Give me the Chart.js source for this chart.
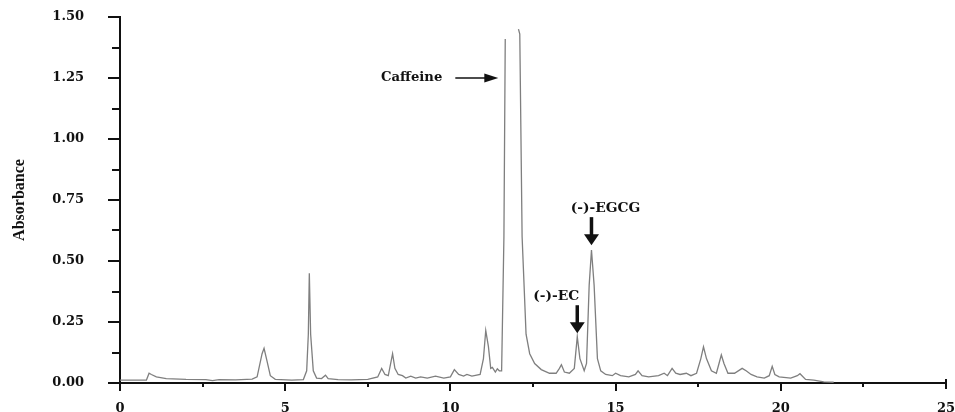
<!DOCTYPE html>
<html>
<head>
<meta charset="utf-8">
<script src="https://cdn.jsdelivr.net/npm/chart.js@4.4.1/dist/chart.umd.min.js"></script>
<style>
  body { margin: 0; background: #fff; }
</style>
</head>
<body>
<canvas id="chromatogram" width="955" height="412"></canvas>
<script>
// retention time (min) and absorbance
// null = the clipped top of the caffeine peak (trace not drawn there)
const retentionTime = [
  0.0, 0.8, 0.88, 0.95, 1.1, 1.4, 2.0, 2.6, 2.8, 3.0, 3.5, 4.0,
  4.15, 4.3, 4.36, 4.45, 4.55, 4.7, 5.2, 5.55, 5.65, 5.7, 5.73, 5.77,
  5.85, 5.95, 6.1, 6.22, 6.3, 6.6, 7.0, 7.5, 7.8, 7.92, 8.02, 8.12,
  8.25, 8.32, 8.42, 8.55, 8.65, 8.8, 8.95, 9.1, 9.3, 9.55, 9.8, 10.0,
  10.12, 10.25, 10.4, 10.5, 10.65, 10.9, 11.0, 11.07, 11.15, 11.22, 11.27, 11.36,
  11.42, 11.48, 11.55, 11.62, 11.66, 11.9, 12.06, 12.1, 12.17, 12.29, 12.4, 12.55,
  12.75, 13.0, 13.2, 13.3, 13.36, 13.45, 13.6, 13.75, 13.84, 13.92, 14.05, 14.12,
  14.2, 14.27, 14.35, 14.45, 14.55, 14.7, 14.9, 15.0, 15.15, 15.4, 15.6, 15.68,
  15.8, 16.0, 16.3, 16.47, 16.57, 16.71, 16.82, 16.95, 17.14, 17.28, 17.45, 17.58,
  17.66, 17.75, 17.9, 18.05, 18.13, 18.2, 18.28, 18.4, 18.6, 18.83, 18.95, 19.1,
  19.28, 19.5, 19.65, 19.74, 19.82, 19.95, 20.3, 20.5, 20.58, 20.75, 21.0, 21.3,
  21.6
];
const absorbance = [
  0.012, 0.012, 0.04, 0.035, 0.025, 0.018, 0.015, 0.014, 0.01, 0.014, 0.013, 0.016,
  0.025, 0.12, 0.142, 0.09, 0.03, 0.015, 0.012, 0.014, 0.05, 0.2, 0.45, 0.2,
  0.05, 0.02, 0.018, 0.032, 0.018, 0.014, 0.013, 0.015, 0.025, 0.06, 0.035, 0.03,
  0.12, 0.06, 0.035, 0.03, 0.02, 0.028, 0.02, 0.025, 0.02, 0.028, 0.02, 0.025,
  0.055, 0.035, 0.028, 0.035, 0.028, 0.035, 0.1, 0.215, 0.15, 0.06, 0.064, 0.045,
  0.058, 0.05, 0.05, 0.6, 1.41, null, 1.45, 1.43, 0.6, 0.2, 0.12, 0.08,
  0.055, 0.04, 0.04, 0.06, 0.075, 0.045, 0.04, 0.06, 0.19, 0.1, 0.05, 0.08,
  0.4, 0.545, 0.4, 0.1, 0.05, 0.035, 0.03, 0.04, 0.03, 0.025, 0.035, 0.05,
  0.03, 0.025, 0.03, 0.04, 0.03, 0.06, 0.04, 0.035, 0.04, 0.03, 0.04, 0.1,
  0.148, 0.1, 0.05, 0.04, 0.08, 0.115, 0.08, 0.04, 0.04, 0.06, 0.05, 0.035,
  0.025, 0.02, 0.03, 0.068, 0.035, 0.025, 0.02, 0.03, 0.038, 0.015, 0.012, 0.005,
  0.003
];
const xTickValues = [0, 5, 10, 15, 20, 25];
const yTickLabels = ['0.00', '0.25', '0.50', '0.75', '1.00', '1.25', '1.50'];

// peak labels: anchored at the arrow tip in data units
const peakLabels = [
  { text: 'Caffeine', x: 11.45, y: 1.25, arrow: 'right' },
  { text: '(-)-EGCG', x: 14.27, y: 0.565, arrow: 'down', textDx: 14 },
  { text: '(-)-EC', x: 13.84, y: 0.204, arrow: 'down', textDx: -21 }
];

const tickFont = { family: '"DejaVu Serif", serif', size: 13, weight: 'bold' };

const axisMarks = {
  id: 'axisMarks',
  afterDraw(chart) {
    const ctx = chart.ctx;
    const xs = chart.scales.x, ys = chart.scales.y;
    const left = chart.chartArea.left, bottom = chart.chartArea.bottom;
    ctx.save();
    ctx.strokeStyle = '#111';
    ctx.lineWidth = 2;
    // y ticks: majors every 0.25, minors between
    for (let i = 0; i <= 12; i++) {
      const py = Math.round(ys.getPixelForValue(i * 0.125));
      ctx.beginPath();
      ctx.moveTo(left - (i % 2 === 0 ? 12 : 8), py);
      ctx.lineTo(left, py);
      ctx.stroke();
    }
    // x ticks: majors every 5, minors every 2.5
    for (let i = 0; i <= 10; i++) {
      const px = Math.round(xs.getPixelForValue(i * 2.5));
      ctx.beginPath();
      if (i === 10) {
        ctx.moveTo(px, bottom - 4);
        ctx.lineTo(px, bottom + 6);
      } else {
        ctx.moveTo(px, bottom);
        ctx.lineTo(px, bottom + (i % 2 === 0 ? 8 : 4));
      }
      ctx.stroke();
    }

    // peak labels + arrows
    ctx.fillStyle = '#111';
    ctx.strokeStyle = '#111';
    ctx.font = 'bold 12px "DejaVu Serif", serif';
    ctx.textBaseline = 'middle';
    peakLabels.forEach(p => {
      const tx = xs.getPixelForValue(p.x);
      const ty = ys.getPixelForValue(p.y);
      if (p.arrow === 'right') {
        ctx.lineWidth = 1.5;
        ctx.beginPath();
        ctx.moveTo(tx - 43, ty);
        ctx.lineTo(tx - 12, ty);
        ctx.stroke();
        ctx.beginPath();
        ctx.moveTo(tx, ty);
        ctx.lineTo(tx - 14, ty - 4.5);
        ctx.lineTo(tx - 14, ty + 4.5);
        ctx.closePath();
        ctx.fill();
        ctx.save();
        ctx.translate(tx - 56, ty);
        ctx.scale(1.1, 1);
        ctx.textAlign = 'right';
        ctx.fillText(p.text, 0, 0);
        ctx.restore();
      } else {
        ctx.lineWidth = 3.5;
        ctx.beginPath();
        ctx.moveTo(tx, ty - 28);
        ctx.lineTo(tx, ty - 9);
        ctx.stroke();
        ctx.beginPath();
        ctx.moveTo(tx, ty);
        ctx.lineTo(tx - 7.5, ty - 11);
        ctx.lineTo(tx + 7.5, ty - 11);
        ctx.closePath();
        ctx.fill();
        ctx.save();
        ctx.translate(tx + p.textDx, ty - 36);
        ctx.scale(1.15, 1);
        ctx.textAlign = 'center';
        ctx.fillText(p.text, 0, 0);
        ctx.restore();
      }
    });
    ctx.restore();
  }
};

new Chart(document.getElementById('chromatogram').getContext('2d'), {
  type: 'line',
  data: {
    datasets: [{
      data: retentionTime.map((t, i) => ({ x: t, y: absorbance[i] })),
      borderColor: '#7f7f7f',
      borderWidth: 1.3,
      pointRadius: 0,
      tension: 0,
      spanGaps: false,
      fill: false
    }]
  },
  options: {
    responsive: false,
    animation: false,
    layout: { padding: { top: 17, right: 9, left: 0, bottom: 0 } },
    plugins: { legend: { display: false }, tooltip: { enabled: false } },
    scales: {
      x: {
        type: 'linear',
        min: 0,
        max: 25,
        afterBuildTicks: s => { s.ticks = xTickValues.map(v => ({ value: v })); },
        afterFit: s => { s.height = 29; s.paddingLeft = 0; s.paddingRight = 0; },
        grid: { display: false },
        border: { display: true, color: '#111', width: 2 },
        ticks: { color: '#111', font: tickFont, padding: 10, maxRotation: 0 }
      },
      y: {
        min: 0,
        max: 1.5,
        afterBuildTicks: s => { s.ticks = yTickLabels.map(l => ({ value: parseFloat(l) })); },
        afterFit: s => { s.width = 120; s.paddingTop = 0; s.paddingBottom = 0; },
        grid: { display: false },
        border: { display: true, color: '#111', width: 2 },
        ticks: {
          color: '#111',
          font: tickFont,
          padding: 28,
          callback: (v) => yTickLabels.find(l => parseFloat(l) === v)
        },
        title: {
          display: true,
          text: 'Absorbance',
          color: '#111',
          font: { family: '"Liberation Serif", serif', size: 16, weight: 'bold' },
          padding: { top: 10, bottom: 0 }
        }
      }
    }
  },
  plugins: [axisMarks]
});
</script>
</body>
</html>
